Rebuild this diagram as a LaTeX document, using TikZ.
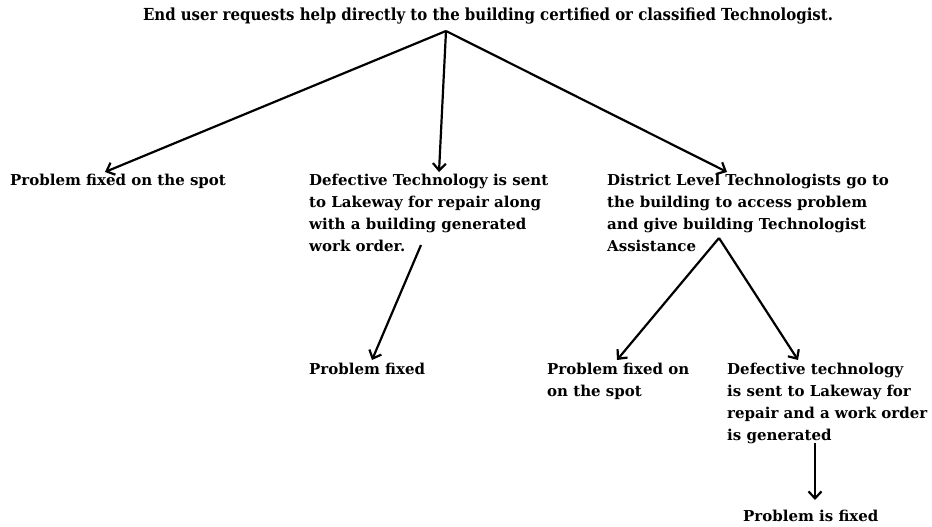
\documentclass[tikz,border=0pt]{standalone}
\usepackage{fontspec}
\setmainfont{DejaVu Serif}
\newfontfamily\condfont{DejaVu Serif Condensed}
\usetikzlibrary{arrows.meta}
\tikzset{
  txt/.style={anchor=north west, inner sep=0pt, align=left, font=\bfseries\fontsize{15}{22}\selectfont},
  arr/.style={line width=2.2pt, -{Straight Barb[length=7pt,width=13pt,line width=2.2pt]}}
}
\begin{document}
\begin{tikzpicture}[x=1pt,y=-1pt]
\useasboundingbox (0,0) rectangle (932,527);
\node[anchor=center, inner sep=0pt, font=\condfont\bfseries\fontsize{16.6}{18}\selectfont] (top) at (488,16) {End user requests help directly to the building certified or classified Technologist.};
\node[txt] (spot) at (10,174) {Problem fixed on the spot};
\node[txt] (def) at (309,174) {Defective Technology is sent\\to Lakeway for repair along\\with a building generated\\work order.};
\node[txt] (dist) at (607,174) {District Level Technologists go to\\the building to access problem\\and give building Technologist\\Assistance};
\node[txt] (pf) at (309,363) {Problem fixed};
\node[txt] (pfs) at (547,363) {Problem fixed on\\on the spot};
\node[txt] (def2) at (727,363) {Defective technology\\is sent to Lakeway for\\repair and a work order\\is generated};
\node[txt] (pif) at (743,510) {Problem is fixed};
\coordinate (apex) at (446,31);
\coordinate (apex2) at (719,238);
\coordinate (a1) at (105,172);
\coordinate (a2) at (439,172);
\coordinate (a3) at (727,172);
\coordinate (b0) at (421,245);
\coordinate (b1) at (372,360);
\coordinate (c1) at (617,360);
\coordinate (c2) at (798,360);
\coordinate (d0) at (815,443);
\coordinate (d1) at (815,500);
\draw[arr] (apex) -- (a1);
\draw[arr] (apex) -- (a2);
\draw[arr] (apex) -- (a3);
\draw[arr] (b0) -- (b1);
\draw[arr] (apex2) -- (c1);
\draw[arr] (apex2) -- (c2);
\draw[arr] (d0) -- (d1);
\end{tikzpicture}
\end{document}
